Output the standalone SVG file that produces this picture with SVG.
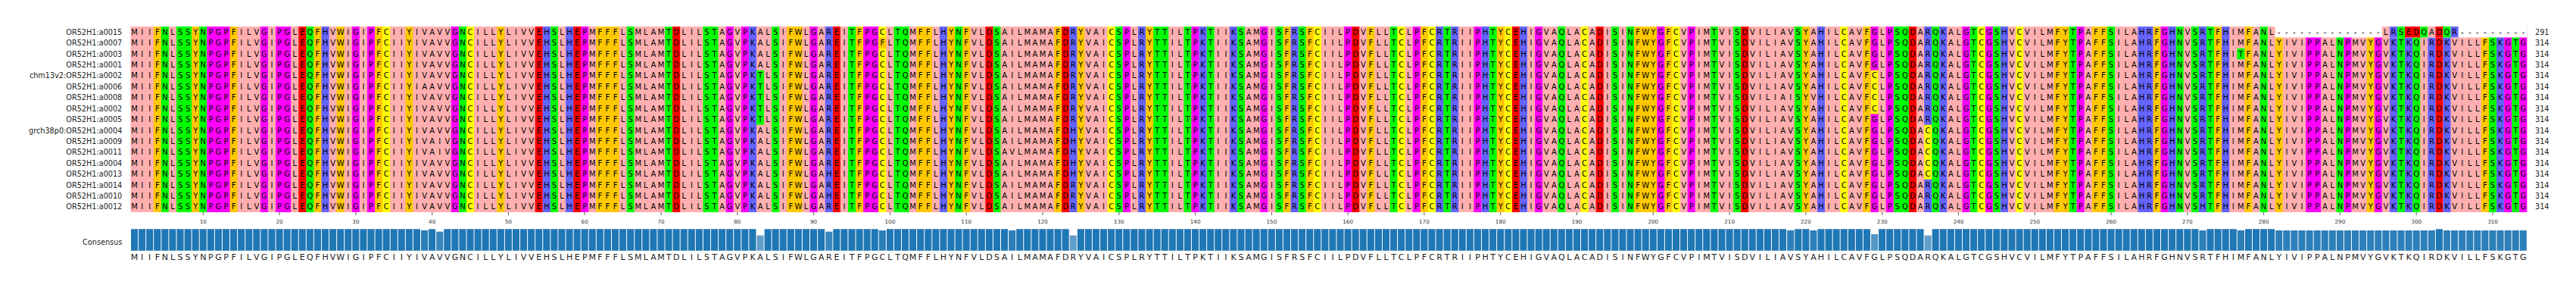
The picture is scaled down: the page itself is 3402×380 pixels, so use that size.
<svg xmlns="http://www.w3.org/2000/svg" width="3402" height="380" viewBox="0 0 3402 380">
<style>
.lb{font-family:"DejaVu Sans",sans-serif;font-size:9.7px;fill:#222}
.e{text-anchor:end}
.sq{font-size:10px;fill:#000}
.cs{font-size:11px;fill:#222}
.tk{font-family:"DejaVu Sans",sans-serif;font-size:7.2px;fill:#333;text-anchor:middle}
.ch{font-family:"DejaVu Sans",sans-serif;font-size:10px;text-anchor:middle;fill:#000}
.p{fill:#ffafaf}.o{fill:#ffc800}.g{fill:#00ff00}.m{fill:#ff00ff}.r{fill:#ff0000}.b{fill:#6464ff}.y{fill:#ffff00}
.bar{fill:#1f77b4}.w{fill:#fff}
.dl{stroke:#1f77b4;stroke-dasharray:9.079 1}
</style>
<defs>
<text id="seq" font-family="'DejaVu Sans', sans-serif" text-anchor="middle" x="177.6 187.7 197.7 207.8 217.9 228 238.1 248.1 258.2 268.3 278.4 288.4 298.5 308.6 318.7 328.8 338.8 348.9 359 369.1 379.2 389.2 399.3 409.4 419.5 429.6 439.6 449.7 459.8 469.9 480 490 500.1 510.2 520.3 530.3 540.4 550.5 560.6 570.7 580.7 590.8 600.9 611 621.1 631.1 641.2 651.3 661.4 671.5 681.5 691.6 701.7 711.8 721.9 731.9 742 752.1 762.2 772.2 782.3 792.4 802.5 812.6 822.6 832.7 842.8 852.9 863 873 883.1 893.2 903.3 913.4 923.4 933.5 943.6 953.7 963.7 973.8 983.9 994 1004.1 1014.1 1024.2 1034.3 1044.4 1054.5 1064.5 1074.6 1084.7 1094.8 1104.9 1114.9 1125 1135.1 1145.2 1155.2 1165.3 1175.4 1185.5 1195.6 1205.6 1215.7 1225.8 1235.9 1246 1256 1266.1 1276.2 1286.3 1296.4 1306.4 1316.5 1326.6 1336.7 1346.7 1356.8 1366.9 1377 1387.1 1397.1 1407.2 1417.3 1427.4 1437.5 1447.5 1457.6 1467.7 1477.8 1487.9 1497.9 1508 1518.1 1528.2 1538.2 1548.3 1558.4 1568.5 1578.6 1588.6 1598.7 1608.8 1618.9 1629 1639 1649.1 1659.2 1669.3 1679.4 1689.4 1699.5 1709.6 1719.7 1729.8 1739.8 1749.9 1760 1770.1 1780.1 1790.2 1800.3 1810.4 1820.5 1830.5 1840.6 1850.7 1860.8 1870.9 1880.9 1891 1901.1 1911.2 1921.3 1931.3 1941.4 1951.5 1961.6 1971.6 1981.7 1991.8 2001.9 2012 2022 2032.1 2042.2 2052.3 2062.4 2072.4 2082.5 2092.6 2102.7 2112.8 2122.8 2132.9 2143 2153.1 2163.1 2173.2 2183.3 2193.4 2203.5 2213.5 2223.6 2233.7 2243.8 2253.9 2263.9 2274 2284.1 2294.2 2304.3 2314.3 2324.4 2334.5 2344.6 2354.6 2364.7 2374.8 2384.9 2395 2405 2415.1 2425.2 2435.3 2445.4 2455.4 2465.5 2475.6 2485.7 2495.8 2505.8 2515.9 2526 2536.1 2546.1 2556.2 2566.3 2576.4 2586.5 2596.5 2606.6 2616.7 2626.8 2636.9 2646.9 2657 2667.1 2677.2 2687.3 2697.3 2707.4 2717.5 2727.6 2737.7 2747.7 2757.8 2767.9 2778 2788 2798.1 2808.2 2818.3 2828.4 2838.4 2848.5 2858.6 2868.7 2878.8 2888.8 2898.9 2909 2919.1 2929.2 2939.2 2949.3 2959.4 2969.5 2979.5 2989.6 2999.7 3009.8 3019.9 3029.9 3040 3050.1 3060.2 3070.3 3080.3 3090.4 3100.5 3110.6 3120.7 3130.7 3140.8 3150.9 3161 3171 3181.1 3191.2 3201.3 3211.4 3221.4 3231.5 3241.6 3251.7 3261.8 3271.8 3281.9 3292 3302.1 3312.2 3322.2 3332.3">MIIFNLSSYNPGPFILVGIPGLEQFHVWIGIPFCIIYIVAVVGNCILLYLIVVEHSLHEPMFFFLSMLAMTDLILSTAGVPKALSIFWLGAREITFPGCLTQMFFLHYNFVLDSAILMAMAFDRYVAICSPLRYTTILTPKTIIKSAMGISFRSFCIILPDVFLLTCLPFCRTRIIPHTYCEHIGVAQLACADISINFWYGFCVPIMTVISDVILIAVSYAHILCAVFGLPSQDARQKALGTCGSHVCVILMFYTPAFFSILAHRFGHNVSRTFHIMFANLYIVIPPALNPMVYGVKTKQIRDKVILLFSKGTG</text>
</defs>
<rect width="3402" height="380" fill="#fff"/>
<g id="columns" transform="translate(172.5 35) scale(10.079 245)">
<rect width="314" height="1" class="p"/>
<path class="o" d="M3 0h1v1h-1zM8 0h1v1h-1zM13 0h1v1h-1zM24 0h1v1h-1zM27 0h1v1h-1zM32 0h1v1h-1zM36 0h1v1h-1zM48 0h1v1h-1zM61 0h3v1h-3zM86 0h2v1h-2zM95 0h1v1h-1zM103 0h2v1h-2zM107 0h1v1h-1zM109 0h1v1h-1zM121 0h1v1h-1zM124 0h1v1h-1zM133 0h1v1h-1zM151 0h1v1h-1zM154 0h1v1h-1zM162 0h1v1h-1zM169 0h1v1h-1zM179 0h1v1h-1zM197 0h3v1h-3zM201 0h1v1h-1zM219 0h1v1h-1zM227 0h1v1h-1zM252 0h2v1h-2zM257 0h2v1h-2zM265 0h1v1h-1zM273 0h1v1h-1zM277 0h1v1h-1zM281 0h1v1h-1zM293 0h1v1h-1zM308 0h1v1h-1z"/>
<path class="g" d="M4 0h1v1h-1zM6 0h2v1h-2zM9 0h1v1h-1zM23 0h1v1h-1zM43 0h1v1h-1zM55 0h1v1h-1zM65 0h1v1h-1zM70 0h1v1h-1zM75 0h2v1h-2zM84 0h1v1h-1zM94 0h1v1h-1zM100 0h2v1h-2zM108 0h1v1h-1zM113 0h1v1h-1zM129 0h1v1h-1zM134 0h2v1h-2zM138 0h1v1h-1zM141 0h1v1h-1zM145 0h1v1h-1zM150 0h1v1h-1zM153 0h1v1h-1zM165 0h1v1h-1zM172 0h1v1h-1zM178 0h1v1h-1zM187 0h1v1h-1zM194 0h1v1h-1zM196 0h1v1h-1zM207 0h1v1h-1zM210 0h1v1h-1zM218 0h1v1h-1zM231 0h2v1h-2zM236 0h1v1h-1zM241 0h1v1h-1zM244 0h1v1h-1zM254 0h1v1h-1zM259 0h1v1h-1zM268 0h1v1h-1zM270 0h1v1h-1zM272 0h1v1h-1zM279 0h1v1h-1zM289 0h1v1h-1zM297 0h1v1h-1zM299 0h1v1h-1zM309 0h1v1h-1zM312 0h1v1h-1z"/>
<path class="m" d="M10 0h3v1h-3zM17 0h1v1h-1zM19 0h2v1h-2zM29 0h1v1h-1zM31 0h1v1h-1zM42 0h1v1h-1zM59 0h1v1h-1zM78 0h1v1h-1zM80 0h1v1h-1zM89 0h1v1h-1zM96 0h2v1h-2zM130 0h1v1h-1zM139 0h1v1h-1zM148 0h1v1h-1zM159 0h1v1h-1zM168 0h1v1h-1zM176 0h1v1h-1zM184 0h1v1h-1zM200 0h1v1h-1zM204 0h1v1h-1zM228 0h1v1h-1zM230 0h1v1h-1zM240 0h1v1h-1zM243 0h1v1h-1zM255 0h1v1h-1zM266 0h1v1h-1zM285 0h2v1h-2zM290 0h1v1h-1zM294 0h1v1h-1zM311 0h1v1h-1zM313 0h1v1h-1z"/>
<path class="r" d="M22 0h1v1h-1zM53 0h1v1h-1zM58 0h1v1h-1zM71 0h1v1h-1zM92 0h1v1h-1zM112 0h1v1h-1zM122 0h1v1h-1zM160 0h1v1h-1zM181 0h1v1h-1zM192 0h1v1h-1zM211 0h1v1h-1zM233 0h1v1h-1zM302 0h1v1h-1z"/>
<path class="b" d="M25 0h1v1h-1zM54 0h1v1h-1zM57 0h1v1h-1zM81 0h1v1h-1zM91 0h1v1h-1zM106 0h1v1h-1zM123 0h1v1h-1zM132 0h1v1h-1zM140 0h1v1h-1zM144 0h1v1h-1zM152 0h1v1h-1zM171 0h1v1h-1zM173 0h1v1h-1zM177 0h1v1h-1zM182 0h1v1h-1zM221 0h1v1h-1zM235 0h1v1h-1zM237 0h1v1h-1zM245 0h1v1h-1zM263 0h2v1h-2zM267 0h1v1h-1zM271 0h1v1h-1zM274 0h1v1h-1zM296 0h1v1h-1zM298 0h1v1h-1zM301 0h1v1h-1zM303 0h1v1h-1zM310 0h1v1h-1z"/>
<path class="y" d="M33 0h1v1h-1zM44 0h1v1h-1zM98 0h1v1h-1zM128 0h1v1h-1zM155 0h1v1h-1zM166 0h1v1h-1zM170 0h1v1h-1zM180 0h1v1h-1zM190 0h1v1h-1zM202 0h1v1h-1zM224 0h1v1h-1zM242 0h1v1h-1zM247 0h1v1h-1z"/>
</g>
<g id="rows">
<use href="#seq" class="sq" y="45.8"/>
<use href="#seq" class="sq" y="60.2"/>
<use href="#seq" class="sq" y="74.6"/>
<use href="#seq" class="sq" y="89.04"/>
<use href="#seq" class="sq" y="103.45"/>
<use href="#seq" class="sq" y="117.86"/>
<use href="#seq" class="sq" y="132.27"/>
<use href="#seq" class="sq" y="146.68"/>
<use href="#seq" class="sq" y="161.1"/>
<use href="#seq" class="sq" y="175.51"/>
<use href="#seq" class="sq" y="189.92"/>
<use href="#seq" class="sq" y="204.33"/>
<use href="#seq" class="sq" y="218.74"/>
<use href="#seq" class="sq" y="233.16"/>
<use href="#seq" class="sq" y="247.57"/>
<use href="#seq" class="sq" y="261.98"/>
<use href="#seq" class="sq" y="276.39"/>
</g>
<g id="variants">
<rect class="w" x="3004.7" y="35" width="333" height="14.41"/>
<rect class="p" x="3145.8" y="35" width="10.08" height="14.41"/>
<rect class="b" x="3155.88" y="35" width="10.08" height="14.41"/>
<rect class="g" x="3165.96" y="35" width="10.08" height="14.41"/>
<rect class="r" x="3176.04" y="35" width="20.16" height="14.41"/>
<rect class="g" x="3196.2" y="35" width="10.08" height="14.41"/>
<rect class="p" x="3206.28" y="35" width="10.08" height="14.41"/>
<rect class="r" x="3216.36" y="35" width="10.08" height="14.41"/>
<rect class="g" x="3226.44" y="35" width="10.08" height="14.41"/>
<rect class="b" x="3236.52" y="35" width="10.08" height="14.41"/>
<text class="ch" y="45.8" x="3009.8 3019.9 3029.9 3040 3050.1 3060.2 3070.3 3080.3 3090.4 3100.5 3110.6 3120.7 3130.7 3140.8 3150.9 3161 3171 3181.1 3191.2 3201.3 3211.4 3221.4 3231.5 3241.6 3251.7 3261.8 3271.8 3281.9 3292 3302.1 3312.2 3322.2 3332.3">--------------LRSEDQADQR---------</text>
<rect class="o" x="1160.28" y="49.41" width="10.08" height="14.42"/>
<text class="ch" x="1165.3" y="60.2">F</text>
<rect class="g" x="2954.34" y="63.82" width="10.08" height="14.42"/>
<text class="ch" x="2959.4" y="74.6">T</text>
<rect class="g" x="999.02" y="92.65" width="10.08" height="72.06"/>
<text class="ch" x="1004.1 1004.1 1004.1 1004.1 1004.1" y="103.45 117.86 132.27 146.68 161.1">TTTTT</text>
<rect class="p" x="555.54" y="107.06" width="10.08" height="14.42"/>
<text class="ch" x="560.6" y="117.86">A</text>
<rect class="p" x="575.7" y="179.12" width="10.08" height="28.83"/>
<text class="ch" x="580.7 580.7" y="189.92 204.33">II</text>
<rect class="b" x="1089.73" y="222.36" width="10.08" height="14.42"/>
<rect class="b" x="1089.73" y="251.18" width="10.08" height="14.42"/>
<text class="ch" x="1094.8 1094.8" y="233.16 261.98">HH</text>
<rect class="p" x="1331.62" y="193.53" width="10.08" height="14.42"/>
<text class="ch" x="1336.7" y="204.33">V</text>
<rect class="b" x="1412.26" y="164.71" width="10.08" height="72.06"/>
<text class="ch" x="1417.3 1417.3 1417.3 1417.3 1417.3" y="175.51 189.92 204.33 218.74 233.16">HHHHH</text>
<rect class="y" x="2470.55" y="92.65" width="10.08" height="57.65"/>
<text class="ch" x="2475.6 2475.6 2475.6 2475.6" y="103.45 117.86 132.27 146.68">CCCC</text>
<rect class="p" x="2359.68" y="121.47" width="10.08" height="14.42"/>
<text class="ch" x="2364.7" y="132.27">I</text>
<rect class="p" x="2389.92" y="121.47" width="10.08" height="14.42"/>
<text class="ch" x="2395" y="132.27">V</text>
<rect class="y" x="2541.1" y="164.71" width="10.08" height="72.06"/>
<text class="ch" x="2546.1 2546.1 2546.1 2546.1 2546.1" y="175.51 189.92 204.33 218.74 233.16">CCCCC</text>
<rect class="b" x="2903.95" y="265.59" width="10.08" height="14.41"/>
<text class="ch" x="2909" y="276.39">H</text>
</g>
<g id="labels" class="lb e">
<text x="161.3" y="45.8">OR52H1:a0015</text>
<text x="161.3" y="60.2">OR52H1:a0007</text>
<text x="161.3" y="74.6">OR52H1:a0003</text>
<text x="161.3" y="89.04">OR52H1:a0001</text>
<text x="161.3" y="103.45">chm13v2:OR52H1:a0002</text>
<text x="161.3" y="117.86">OR52H1:a0006</text>
<text x="161.3" y="132.27">OR52H1:a0008</text>
<text x="161.3" y="146.68">OR52H1:a0002</text>
<text x="161.3" y="161.1">OR52H1:a0005</text>
<text x="161.3" y="175.51">grch38p0:OR52H1:a0004</text>
<text x="161.3" y="189.92">OR52H1:a0009</text>
<text x="161.3" y="204.33">OR52H1:a0011</text>
<text x="161.3" y="218.74">OR52H1:a0004</text>
<text x="161.3" y="233.16">OR52H1:a0013</text>
<text x="161.3" y="247.57">OR52H1:a0014</text>
<text x="161.3" y="261.98">OR52H1:a0010</text>
<text x="161.3" y="276.39">OR52H1:a0012</text>
<text x="161.3" y="322.9">Consensus</text>
</g>
<g id="lengths" class="lb">
<text x="3348" y="45.8">291</text>
<text x="3348" y="60.2">314</text>
<text x="3348" y="74.6">314</text>
<text x="3348" y="89.04">314</text>
<text x="3348" y="103.45">314</text>
<text x="3348" y="117.86">314</text>
<text x="3348" y="132.27">314</text>
<text x="3348" y="146.68">314</text>
<text x="3348" y="161.1">314</text>
<text x="3348" y="175.51">314</text>
<text x="3348" y="189.92">314</text>
<text x="3348" y="204.33">314</text>
<text x="3348" y="218.74">314</text>
<text x="3348" y="233.16">314</text>
<text x="3348" y="247.57">314</text>
<text x="3348" y="261.98">314</text>
<text x="3348" y="276.39">314</text>
</g>
<g id="ticks">
<path stroke="#333" stroke-width="0.8" fill="none" d="M268.3 280v4M369.1 280v4M469.9 280v4M570.7 280v4M671.5 280v4M772.2 280v4M873 280v4M973.8 280v4M1074.6 280v4M1175.4 280v4M1276.2 280v4M1377 280v4M1477.8 280v4M1578.6 280v4M1679.4 280v4M1780.1 280v4M1880.9 280v4M1981.7 280v4M2082.5 280v4M2183.3 280v4M2284.1 280v4M2384.9 280v4M2485.7 280v4M2586.5 280v4M2687.3 280v4M2788 280v4M2888.8 280v4M2989.6 280v4M3090.4 280v4M3191.2 280v4M3292 280v4"/>
<g class="tk">
<text x="268.3" y="295">10</text><text x="369.1" y="295">20</text><text x="469.9" y="295">30</text><text x="570.7" y="295">40</text><text x="671.5" y="295">50</text><text x="772.2" y="295">60</text><text x="873" y="295">70</text><text x="973.8" y="295">80</text><text x="1074.6" y="295">90</text><text x="1175.4" y="295">100</text><text x="1276.2" y="295">110</text><text x="1377" y="295">120</text><text x="1477.8" y="295">130</text><text x="1578.6" y="295">140</text><text x="1679.4" y="295">150</text><text x="1780.1" y="295">160</text><text x="1880.9" y="295">170</text><text x="1981.7" y="295">180</text><text x="2082.5" y="295">190</text><text x="2183.3" y="295">200</text><text x="2284.1" y="295">210</text><text x="2384.9" y="295">220</text><text x="2485.7" y="295">230</text><text x="2586.5" y="295">240</text><text x="2687.3" y="295">250</text><text x="2788" y="295">260</text><text x="2888.8" y="295">270</text><text x="2989.6" y="295">280</text><text x="3090.4" y="295">290</text><text x="3191.2" y="295">300</text><text x="3292" y="295">310</text>
</g>
</g>
<g id="consensus">
<line class="dl" x1="173" y1="316.5" x2="3336.8" y2="316.5" stroke-width="28.4"/>
<g id="reduced">
<rect class="w" x="555.5" y="302" width="10.1" height="29"/><rect class="bar" fill-opacity="0.941" x="556.04" y="303.97" width="9.08" height="26.73"/>
<rect class="w" x="575.7" y="302" width="10.1" height="29"/><rect class="bar" fill-opacity="0.882" x="576.2" y="305.64" width="9.08" height="25.06"/>
<rect class="w" x="999" y="302" width="10.1" height="29"/><rect class="bar" fill-opacity="0.706" x="999.52" y="310.65" width="9.08" height="20.05"/>
<rect class="w" x="1089.7" y="302" width="10.1" height="29"/><rect class="bar" fill-opacity="0.882" x="1090.23" y="305.64" width="9.08" height="25.06"/>
<rect class="w" x="1160.3" y="302" width="10.1" height="29"/><rect class="bar" fill-opacity="0.941" x="1160.78" y="303.97" width="9.08" height="26.73"/>
<rect class="w" x="1331.6" y="302" width="10.1" height="29"/><rect class="bar" fill-opacity="0.941" x="1332.12" y="303.97" width="9.08" height="26.73"/>
<rect class="w" x="1412.3" y="302" width="10.1" height="29"/><rect class="bar" fill-opacity="0.706" x="1412.76" y="310.65" width="9.08" height="20.05"/>
<rect class="w" x="2359.7" y="302" width="10.1" height="29"/><rect class="bar" fill-opacity="0.941" x="2360.18" y="303.97" width="9.08" height="26.73"/>
<rect class="w" x="2389.9" y="302" width="10.1" height="29"/><rect class="bar" fill-opacity="0.941" x="2390.42" y="303.97" width="9.08" height="26.73"/>
<rect class="w" x="2470.5" y="302" width="10.1" height="29"/><rect class="bar" fill-opacity="0.765" x="2471.05" y="308.98" width="9.08" height="21.72"/>
<rect class="w" x="2541.1" y="302" width="10.1" height="29"/><rect class="bar" fill-opacity="0.706" x="2541.6" y="310.65" width="9.08" height="20.05"/>
<rect class="w" x="2903.9" y="302" width="10.1" height="29"/><rect class="bar" fill-opacity="0.941" x="2904.45" y="303.97" width="9.08" height="26.73"/>
<rect class="w" x="2954.3" y="302" width="10.1" height="29"/><rect class="bar" fill-opacity="0.941" x="2954.84" y="303.97" width="9.08" height="26.73"/>
<rect class="w" x="3004.7" y="302" width="333" height="29"/>
<line class="dl" stroke-opacity="0.941" x1="3005.2" y1="317.335" x2="3215.86" y2="317.335" stroke-width="26.73"/>
<rect class="bar" x="3216.86" y="302.3" width="9.08" height="28.4"/>
<line class="dl" stroke-opacity="0.941" x1="3226.94" y1="317.335" x2="3336.81" y2="317.335" stroke-width="26.73"/>
</g>
<use href="#seq" class="cs" y="343"/>
</g>
</svg>
